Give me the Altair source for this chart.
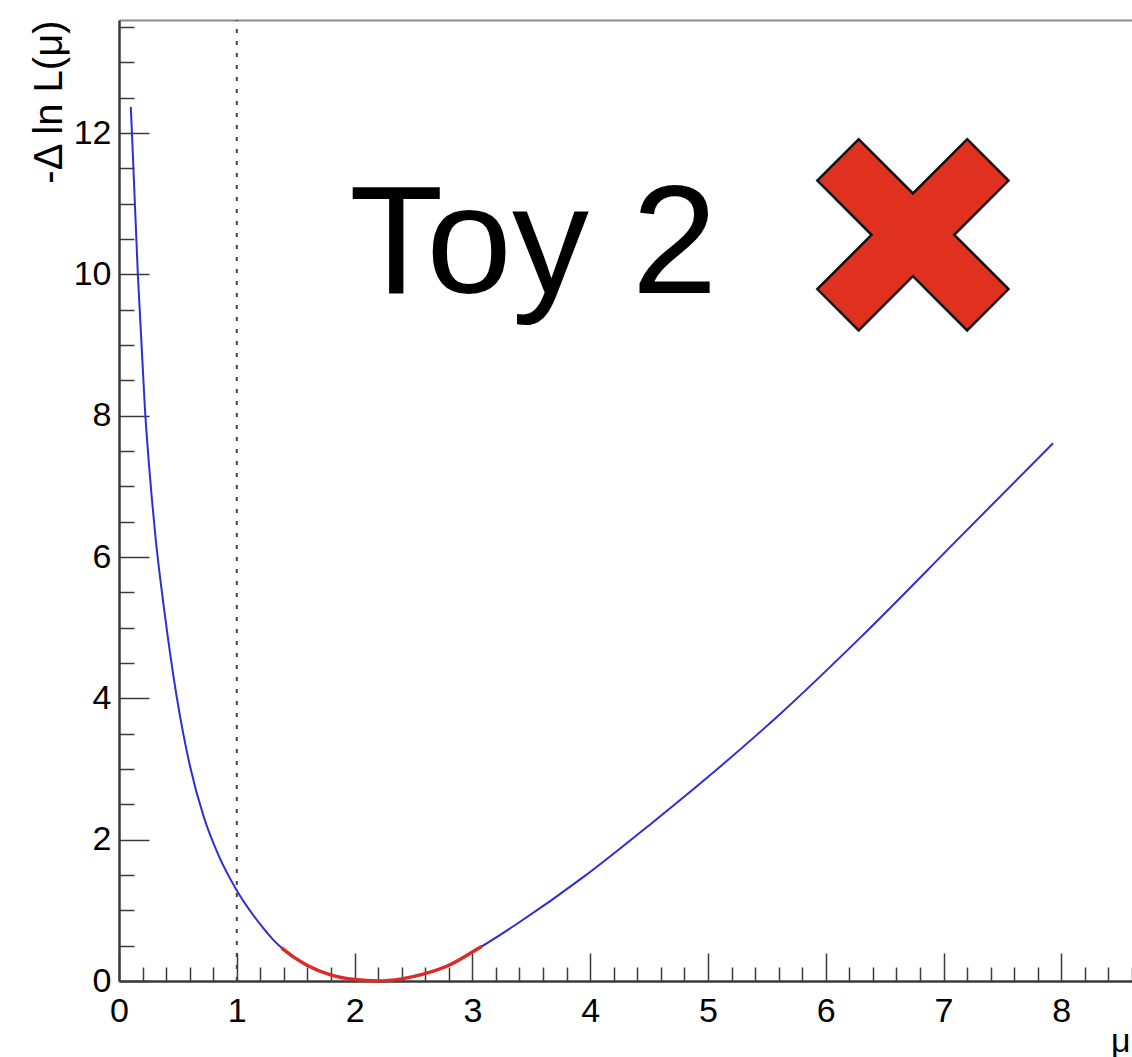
import altair as alt
import pandas as pd

# Profile likelihood scan: -Δ ln L as a function of the signal strength μ
MU = [0.10, 0.11, 0.16, 0.22, 0.28, 0.31, 0.38, 0.49, 0.60, 0.72, 0.85, 0.99,
      1.20, 1.30, 1.38, 1.50, 1.60, 1.79, 2.00, 2.20, 2.40, 2.59, 2.81, 3.01,
      3.08, 3.38, 3.95, 4.52, 5.08, 5.62, 6.30, 7.15, 7.93]
NLL = [12.37, 12.00, 10.00, 8.10, 6.81, 6.28, 5.30, 4.02, 3.06, 2.32, 1.76, 1.31,
       0.80, 0.60, 0.47, 0.32, 0.22, 0.09, 0.02, 0.0, 0.03, 0.10, 0.23, 0.42,
       0.49, 0.81, 1.48, 2.23, 3.00, 3.79, 4.87, 6.30, 7.61]

# 1-sigma interval (-Δ ln L < 0.5), drawn in red
MU_RED = [1.38, 1.50, 1.60, 1.79, 2.00, 2.20, 2.40, 2.59, 2.81, 3.01, 3.08]
NLL_RED = [0.47, 0.32, 0.22, 0.09, 0.02, 0.0, 0.03, 0.10, 0.23, 0.42, 0.49]

# reference line at μ = 1
REF_MU = [1.0, 1.0]
REF_NLL = [0.0, 13.6]

# annotation
LABEL_TEXT = ["Toy 2"]
LABEL_MU = [1.955]
LABEL_NLL = [9.74]
CROSS_MU = [6.74]
CROSS_NLL = [10.56]

X_MAJOR = [0, 1, 2, 3, 4, 5, 6, 7, 8]
X_MINOR = [round(i * 0.2, 1) for i in range(1, 44) if i % 5 != 0]
Y_MAJOR = [0, 2, 4, 6, 8, 10, 12]
Y_MINOR = [i * 0.5 for i in range(1, 28) if i % 4 != 0]

W, H = 1013, 961
FONT = "Liberation Sans"
AXIS_GREY = "#3a3a3a"

xs = alt.Scale(domain=[0, 8.6], nice=False, zero=False)
ys = alt.Scale(domain=[0, 13.6], nice=False, zero=False)

curve = pd.DataFrame({"mu": MU, "nll": NLL})
band = pd.DataFrame({"mu": MU_RED, "nll": NLL_RED})
ref = pd.DataFrame({"mu": REF_MU, "nll": REF_NLL})
label = pd.DataFrame({"mu": LABEL_MU, "nll": LABEL_NLL, "text": LABEL_TEXT})
cross = pd.DataFrame({"mu": CROSS_MU, "nll": CROSS_NLL})

# main axes: labels, axis lines and titles
blue = alt.Chart(curve).mark_line(
    color="#2e2ed2", strokeWidth=2, interpolate="monotone"
).encode(
    x=alt.X("mu:Q", scale=xs, axis=alt.Axis(
        orient="bottom", values=X_MAJOR, ticks=False, tickSize=0, grid=False,
        labelFlush=False, labelPadding=13, labelFont=FONT, labelFontSize=34,
        labelColor="black", domainColor=AXIS_GREY, domainWidth=2.5,
        title="μ", titleFont=FONT, titleFontSize=34, titleFontWeight="normal",
        titleColor="black", titleX=1011, titleY=70, titleAlign="right",
        titleBaseline="alphabetic")),
    y=alt.Y("nll:Q", scale=ys, axis=alt.Axis(
        orient="left", values=Y_MAJOR, ticks=False, tickSize=0, grid=False,
        labelFlush=False, labelPadding=8, labelFont=FONT, labelFontSize=34,
        labelColor="black", domainColor=AXIS_GREY, domainWidth=2.5,
        title="-Δ ln L(μ)", titleFont=FONT, titleFontSize=40,
        titleFontWeight="normal", titleColor="black", titleAngle=270,
        titleX=-70, titleY=0, titleAlign="right", titleBaseline="middle")),
)

# red interval with the inward major ticks
red = alt.Chart(band).mark_line(
    color="#dc2a26", strokeWidth=3.5, interpolate="monotone"
).encode(
    x=alt.X("mu:Q", scale=xs, axis=alt.Axis(
        orient="top", offset=-H, values=X_MAJOR, labels=False, domain=False,
        grid=False, tickSize=28, tickColor=AXIS_GREY, tickWidth=1.5, title=None)),
    y=alt.Y("nll:Q", scale=ys, axis=alt.Axis(
        orient="right", offset=-W, values=Y_MAJOR, labels=False, domain=False,
        grid=False, tickSize=30, tickColor=AXIS_GREY, tickWidth=1.5, title=None)),
)

# dashed reference line with the inward minor ticks
dashed = alt.Chart(ref).mark_line(
    color="#444444", strokeWidth=2, strokeDash=[4, 8]
).encode(
    x=alt.X("mu:Q", scale=xs, axis=alt.Axis(
        orient="top", offset=-H, values=X_MINOR, labels=False, domain=False,
        grid=False, tickSize=14, tickColor=AXIS_GREY, tickWidth=1.5, title=None)),
    y=alt.Y("nll:Q", scale=ys, axis=alt.Axis(
        orient="right", offset=-W, values=Y_MINOR, labels=False, domain=False,
        grid=False, tickSize=15, tickColor=AXIS_GREY, tickWidth=1.5, title=None)),
)

# big label, with the top frame line
text = alt.Chart(label).mark_text(
    align="left", baseline="alphabetic", font=FONT, fontSize=154, color="black"
).encode(
    x=alt.X("mu:Q", scale=xs, axis=alt.Axis(
        orient="top", ticks=False, labels=False, grid=False, title=None,
        domainColor="#8a8a8a", domainWidth=2)),
    y=alt.Y("nll:Q", scale=ys, axis=None),
    text="text:N",
)

X_SHAPE = ("M-0.276,-1 L0.276,-1 L0.276,-0.276 L1,-0.276 L1,0.276 L0.276,0.276 "
           "L0.276,1 L-0.276,1 L-0.276,0.276 L-1,0.276 L-1,-0.276 L-0.276,-0.276 Z")

marker = alt.Chart(cross).mark_point(
    shape=X_SHAPE, size=44900, angle=45, filled=True, fill="#e0301f",
    stroke="#111111", strokeWidth=2.5, opacity=1
).encode(
    x=alt.X("mu:Q", scale=xs, axis=None),
    y=alt.Y("nll:Q", scale=ys, axis=None),
)

chart = alt.layer(blue, red, dashed, text, marker).resolve_axis(
    x="independent", y="independent"
).properties(
    width=W, height=H,
    padding={"left": 119, "top": 20, "right": 0, "bottom": 76},
    autosize=alt.AutoSizeParams(type="none"),
    background="white",
).configure_view(stroke=None)

chart.save("out.html", embed_options={"renderer": "svg", "actions": False})
